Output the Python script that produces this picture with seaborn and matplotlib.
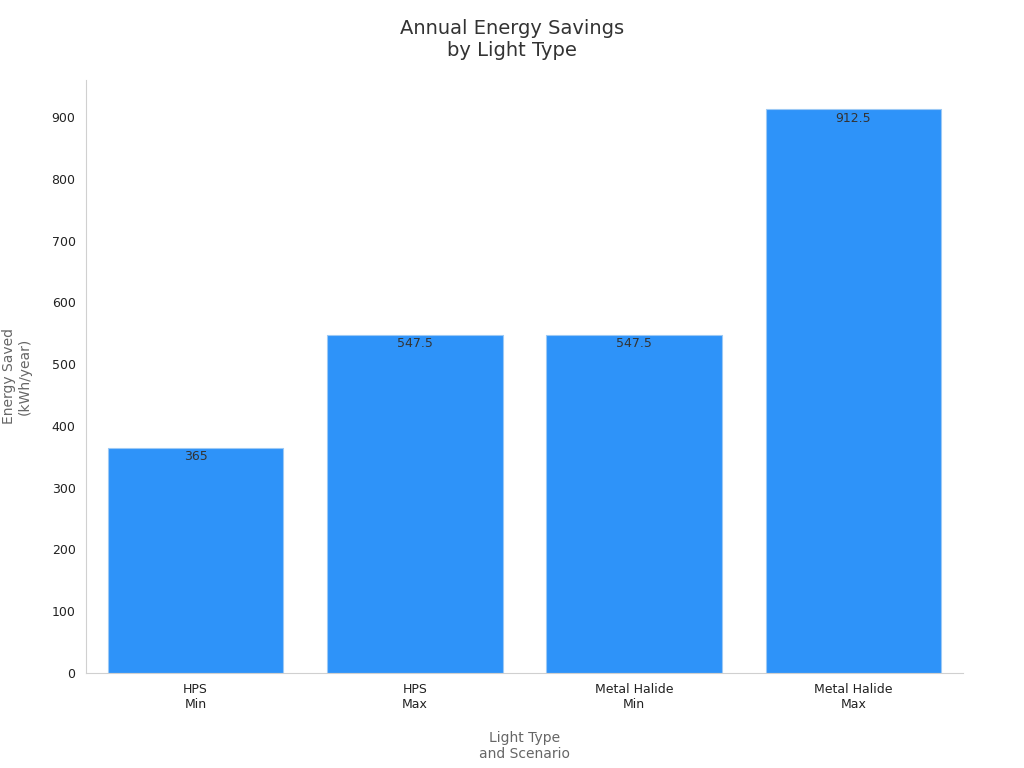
import matplotlib
matplotlib.use("Agg")
import matplotlib.pyplot as plt
import seaborn as sns
import pandas as pd

categories = ["HPS\nMin", "HPS\nMax", "Metal Halide\nMin", "Metal Halide\nMax"]
values = [365, 547.5, 547.5, 912.5]
labels = ["365", "547.5", "547.5", "912.5"]

df = pd.DataFrame({"cat": categories, "val": values})
sns.set_style("white")
fig = plt.figure(figsize=(10.24, 7.68), dpi=100)
ax = fig.add_axes([86/1024, 1-673/768, (963-86)/1024, (673-80)/768])
sns.barplot(data=df, x="cat", y="val", color="#2E93F9", saturation=1, width=0.8,
            edgecolor="#9cc9f5", linewidth=0.8, ax=ax)
for i, (v, l) in enumerate(zip(values, labels)):
    ax.text(i, v - 4, l, ha="center", va="top", fontsize=9, color="#333333")
ax.set_xlim(-0.5, 3.5)
ax.set_ylim(0, 960)
ax.set_yticks(range(0, 901, 100))
ax.tick_params(axis="both", labelsize=9, colors="#222222", length=4)
ax.tick_params(axis="both", color="#999999")
for s in ["top", "right"]:
    ax.spines[s].set_visible(False)
for s in ["left", "bottom"]:
    ax.spines[s].set_color("#d0d0d0")
ax.set_xlabel("Light Type\nand Scenario", fontsize=10, color="#666666", labelpad=14)
ax.set_ylabel("Energy Saved\n(kWh/year)", fontsize=10, color="#666666", labelpad=14)
fig.suptitle("Annual Energy Savings\nby Light Type", fontsize=14, color="#333333", y=0.975)
fig.savefig("out.png", dpi=100)
